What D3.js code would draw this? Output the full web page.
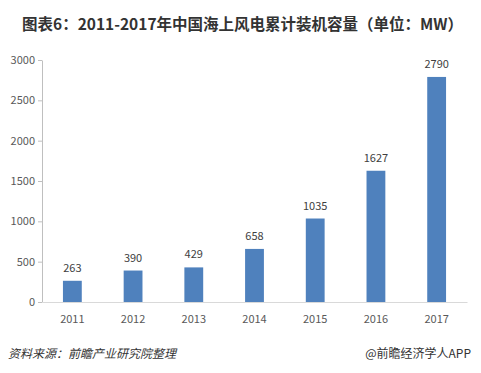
<!DOCTYPE html>
<html>
<head>
<meta charset="utf-8">
<script src="https://cdn.jsdelivr.net/npm/d3@7"></script>
<style>
  body { margin: 0; background: #fff; }
  text { font-family: "Noto Sans CJK SC", "DejaVu Sans", sans-serif; }
</style>
</head>
<body>
<svg id="chart" width="481" height="373"></svg>
<script>
const years = ['2011', '2012', '2013', '2014', '2015', '2016', '2017']
const capacity = [263, 390, 429, 658, 1035, 1627, 2790]
const yTicks = [0, 500, 1000, 1500, 2000, 2500, 3000]

const svg = d3.select('#chart')
const margin = { left: 42, right: 14, top: 60, bottom: 71 }
const width = 481, height = 373

// 标题
svg.append('text')
  .attr('x', 22).attr('y', 30)
  .attr('font-size', 15.5).attr('font-weight', 'bold')
  .attr('fill', '#333')
  .text('图表6：2011-2017年中国海上风电累计装机容量（单位：MW）')

const x = d3.scaleBand().domain(years)
  .range([margin.left, width - margin.right])
  .paddingInner(0.69).paddingOuter(0.345)
const y = d3.scaleLinear().domain([0, 3000])
  .range([height - margin.bottom, margin.top])

// y轴
const yAxis = svg.append('g')
  .attr('transform', `translate(${margin.left},0)`)
  .call(d3.axisLeft(y).tickValues(yTicks).tickFormat(d3.format('d')).tickSize(4).tickSizeOuter(0))
yAxis.select('.domain').attr('stroke', '#bfbfbf')
yAxis.selectAll('.tick line').attr('stroke', '#bfbfbf')
yAxis.selectAll('.tick text').attr('fill', '#595959').attr('font-size', 11)
  .attr('x', -7).attr('font-family', '"Open Sans", "DejaVu Sans", sans-serif')

// x轴
const xAxis = svg.append('g')
  .attr('transform', `translate(0,${y(0)})`)
  .call(d3.axisBottom(x).tickSize(0).tickSizeOuter(0))
xAxis.select('.domain').attr('stroke', '#d9d9d9')
xAxis.selectAll('.tick text').attr('fill', '#595959').attr('font-size', 11)
  .attr('dy', '1.6em').attr('font-family', '"Open Sans", "DejaVu Sans", sans-serif')

// 柱子
svg.append('g').selectAll('rect')
  .data(capacity)
  .join('rect')
  .attr('x', (d, i) => x(years[i]))
  .attr('width', x.bandwidth())
  .attr('y', d => y(d))
  .attr('height', d => y(0) - y(d))
  .attr('fill', '#4f81bd')

// 数值标签
svg.append('g').selectAll('text')
  .data(capacity)
  .join('text')
  .attr('x', (d, i) => x(years[i]) + x.bandwidth() / 2)
  .attr('y', d => y(d) - 9)
  .attr('text-anchor', 'middle')
  .attr('font-size', 11)
  .attr('fill', '#404040')
  .attr('font-family', '"Open Sans", "DejaVu Sans", sans-serif')
  .text(d => d)

// 底部来源
svg.append('text')
  .attr('x', 8).attr('y', 358)
  .attr('font-size', 12).attr('font-style', 'italic')
  .attr('fill', '#333')
  .text('资料来源：前瞻产业研究院整理')
svg.append('text')
  .attr('x', 471).attr('y', 358)
  .attr('text-anchor', 'end')
  .attr('font-size', 12)
  .attr('fill', '#333')
  .text('@前瞻经济学人APP')
</script>
</body>
</html>
